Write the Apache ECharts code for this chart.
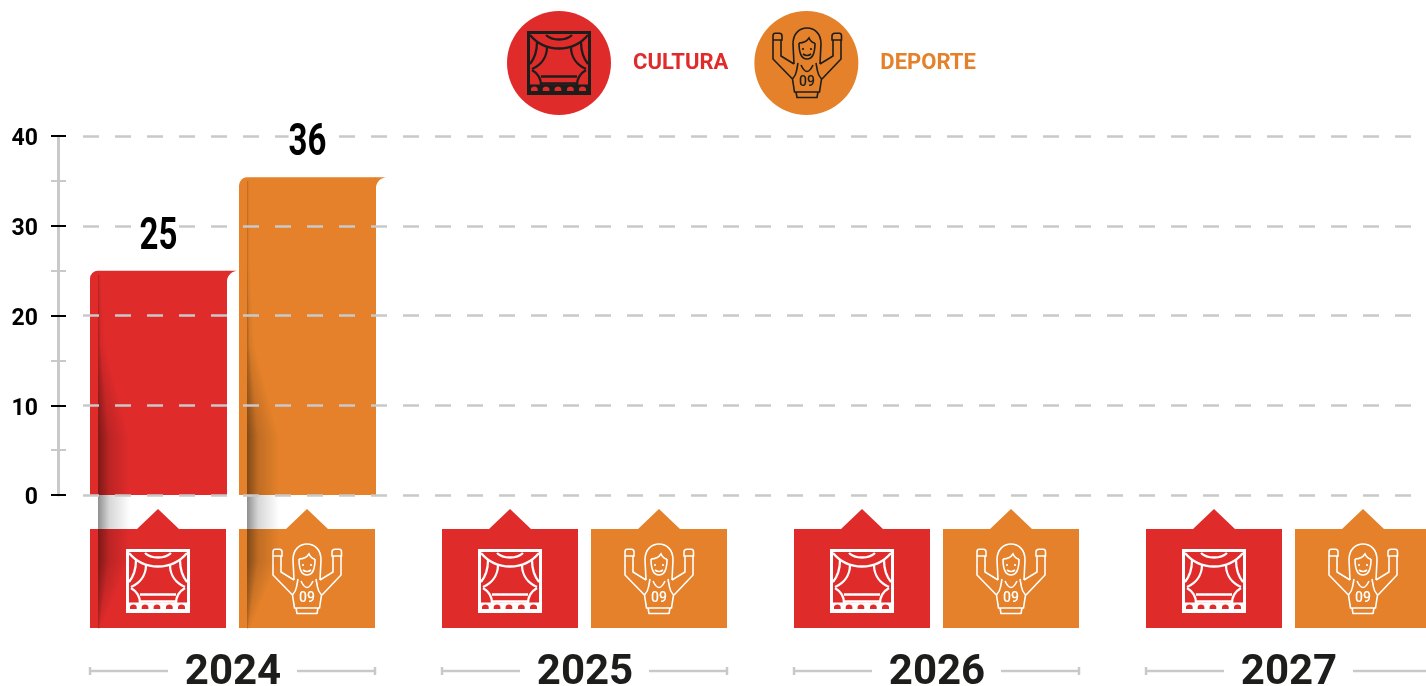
<!DOCTYPE html>
<html>
<head>
<meta charset="utf-8">
<title>Cultura y Deporte</title>
<script src="https://cdn.jsdelivr.net/npm/echarts@6/dist/echarts.min.js"></script>
<style>
  html, body { margin: 0; padding: 0; background: #fff; overflow: hidden; }
  #chart { width: 1426px; height: 686px; }
</style>
</head>
<body>
<div id="chart"></div>
<script>
(function () {
  'use strict';

  // ============================================================
  //  Data
  // ============================================================
  const years = ['2024', '2025', '2026', '2027'];
  // bar heights as drawn; the orange bar stops just under its printed 36
  const culturaValues = [25, null, null, null];
  const deporteValues = [35.4, null, null, null];
  const culturaLabels = ['25', '', '', ''];
  const deporteLabels = ['36', '', '', ''];
  const yTicks = [0, 40, 10];

  // ============================================================
  //  Palette
  // ============================================================
  const C = {
    red: '#e02b2b',
    orange: '#e4812a',
    grey: '#c9c9c9',
    ink: '#000000',
    year: '#1d1d1b',
    white: '#ffffff',
  };
  const FONT = 'Roboto, sans-serif';

  // ============================================================
  //  Icons
  // ============================================================
  const CURTAIN_FRAME = 'M1.5,1.5 H62.5 V62.5 H1.5 Z';
  const CURTAIN_LINES = 'M3,4 C18,22 46,22 61,4 M19,4 C25,10 39,10 45,4 ' +
    'M10,11 C10,20 7,28 3,33 M20,16 C20,26 14,34 5,38 ' +
    'M54,11 C54,20 57,28 61,33 M44,16 C44,26 50,34 59,38 ' +
    'M5,39 C10,42 14,47 14,54 M59,39 C54,42 50,47 50,54 M14,45.5 H50 M14,52.5 H50';
  // seat band: the outer box runs clockwise, the seats counter-clockwise so they stay open
  const CURTAIN_SEATS = 'M3,53.5 H61 V62 H3 Z ' +
    'M4,60 H10.7 V58 C10.7,54.5 4,54.5 4,58 Z ' +
    'M15.7,60 H22.4 V58 C22.4,54.5 15.7,54.5 15.7,58 Z ' +
    'M27.6,60 H34.3 V58 C34.3,54.5 27.6,54.5 27.6,58 Z ' +
    'M40,60 H46.7 V58 C46.7,54.5 40,54.5 40,58 Z ' +
    'M52,60 H59 V58 C59,54.5 52,54.5 52,58 Z';
  const CHEER_LINES = 'M3,5.3 H7.5 Q10,5.3 10,8 V12 H1 V8 Q1,5.3 3,5.3 Z ' +
    'M63,5.3 H67.5 Q69.5,5.3 69.5,8 V12 H60 V8 Q60,5.3 63,5.3 Z ' +
    'M1,12 V31 L20.5,51 M9,12 V28 L22,36 M69,12 V31 L50,51 M61,12 V28 L48,36 ' +
    'M22,36 L21,16 C21,5 28,0 35,0 C42,0 49,5 49,16 L48,36 ' +
    'M27,15 C27,25 30,31 35,31 C40,31 43,25 43,15 M27,15 C32,15 35,13 37,10 C38,13 41,15 43,15 ' +
    'M31,26 Q35,29 39,26 M26,35 L24.5,43 Q24,47 20.5,51 L22.5,64 H47.5 L49.5,51 Q46,47 45.5,43 L44,35 ' +
    'M29,37 Q35,50 41,37 M24,64 L25,69.5 H45 L46,64';

  function iconChildren(kind, x, y, color) {
    if (kind === 0) {
      return [
        { type: 'path', x, y, shape: { pathData: CURTAIN_FRAME }, style: { fill: 'none', stroke: color, lineWidth: 3 } },
        { type: 'path', x, y, shape: { pathData: CURTAIN_LINES }, style: { fill: 'none', stroke: color, lineWidth: 2.3 } },
        { type: 'path', x, y, shape: { pathData: CURTAIN_SEATS }, style: { fill: color } },
      ];
    }
    return [
      { type: 'path', x, y, shape: { pathData: CHEER_LINES }, style: { fill: 'none', stroke: color, lineWidth: 1.6 } },
      { type: 'circle', shape: { cx: x + 31, cy: y + 21, r: 1.1 }, style: { fill: color } },
      { type: 'circle', shape: { cx: x + 39, cy: y + 21, r: 1.1 }, style: { fill: color } },
      { type: 'text', style: { x: x + 35, y: y + 54, text: '09', fill: color, font: `500 14px ${FONT}`, align: 'center', verticalAlign: 'middle' } },
    ];
  }

  // ============================================================
  //  Bar furniture (geometry relative to the category band)
  // ============================================================
  const BAR_W = 137;
  const GROUP_W = 285;
  const colors = [C.red, C.orange];
  const barLeft = (cx, side) => (side === 0 ? cx - 143 : cx + 6);

  // tag with notch + icon under every bar slot
  function renderTag(side) {
    return function (params, api) {
      const p = api.coord([api.value(0), 0]);
      const l = barLeft(p[0], side);
      const z = p[1];
      const mid = 68;
      const path = `M0,34 H${mid - 21} L${mid},14 L${mid + 21},34 H136 V133 H0 Z`;
      const icon = side === 0
        ? iconChildren(0, l + 36, z + 54, C.white)
        : iconChildren(1, l + 33, z + 49, C.white);
      return {
        type: 'group',
        children: [{ type: 'path', x: l, y: z, shape: { pathData: path }, style: { fill: colors[side] } }].concat(icon),
      };
    };
  }

  // how open the page fold is at a pixel height, 0 at the ends, 1 around the baseline
  function foldOpen(y, z) {
    if (y < z - 150) return Math.max(0, (y - (z - 230)) / 80) * 0.15;
    if (y < z - 60) return 0.15 + 0.85 * (y - (z - 150)) / 90;
    if (y < z + 65) return 1;
    return Math.max(0, 1 - (y - (z + 65)) / 68);
  }

  // page fold shadow + curled corner on bars that carry a value
  function renderFold(side, values) {
    return function (params, api) {
      const i = api.value(0);
      const v = values[i];
      if (v == null) return null;
      const p0 = api.coord([i, 0]);
      const pt = api.coord([i, v]);
      const l = barLeft(p0[0], side);
      const t = Math.round(pt[1]);
      const z = Math.round(p0[1]);
      const children = [];
      // the shadow opens and closes along its height, so it is cut in thin strips
      for (let y = t + 4; y < z + 133; y += 2) {
        const f = foldOpen(y, z);
        children.push({
          type: 'rect', silent: true,
          shape: { x: l + 8, y, width: 3 + 29 * f, height: 2 },
          style: {
            fill: {
              type: 'linear', x: 0, y: 0, x2: 1, y2: 0,
              colorStops: [
                { offset: 0, color: `rgba(0,0,0,${0.24 + 0.2 * f})` },
                { offset: 0.35, color: `rgba(0,0,0,${0.05 + 0.11 * f})` },
                { offset: 1, color: 'rgba(0,0,0,0)' },
              ],
            },
          },
        });
      }
      children.push({
        type: 'path', x: l + BAR_W, y: pt[1],
        shape: { pathData: 'M-1,0 L10,0 C4,1 0,5 0,11 L-1,11 Z' },
        style: { fill: colors[side] },
      });
      return { type: 'group', children };
    };
  }

  // value printed above the bar, knocking out the dashed line behind it
  function renderValue(side, values, labels) {
    return function (params, api) {
      const i = api.value(0);
      if (values[i] == null) return null;
      const pc = api.coord([i, values[i]]);
      const l = barLeft(pc[0], side);
      return {
        type: 'text',
        x: l + BAR_W / 2, y: pc[1] - 33, scaleX: 0.75,
        style: {
          x: 0, y: 0,
          text: labels[i], fill: C.ink, font: `bold 44px ${FONT}`,
          align: 'center', verticalAlign: 'middle', backgroundColor: C.white,
        },
      };
    };
  }

  // grey bracket either side of the year
  function renderBracket(params, api) {
    const p = api.coord([api.value(0), 0]);
    const l = barLeft(p[0], 0);
    const y = p[1] + 176;
    const path = `M${l},${y} H${l + 78} M${l + 207},${y} H${l + GROUP_W} M${l},${y - 4} V${y + 4} M${l + GROUP_W},${y - 4} V${y + 4}`;
    return { type: 'path', shape: { pathData: path }, style: { fill: 'none', stroke: C.grey, lineWidth: 2.5 } };
  }

  const slots = years.map((_, i) => [i]);

  // ============================================================
  //  Chart
  // ============================================================
  const chart = echarts.init(document.getElementById('chart'), null, { renderer: 'canvas' });
  chart.setOption({
    animation: false,
    backgroundColor: C.white,
    legend: {
      left: 507, top: 11, padding: 0, icon: 'circle', itemWidth: 104, itemHeight: 104, itemGap: 26,
      selectedMode: false,
      data: [
        { name: 'CULTURA', textStyle: { color: C.red } },
        { name: 'DEPORTE', textStyle: { color: C.orange } },
      ],
      textStyle: { fontFamily: FONT, fontWeight: 'bold', fontSize: 22, padding: [4, 0, 0, 17] },
    },
    grid: [
      { left: 57, top: 136, width: 1408, height: 359, outerBoundsMode: 'none' },
      { left: 83, top: 136, width: 1400, height: 359, outerBoundsMode: 'none' },
    ],
    xAxis: [
      {
        type: 'category', data: years, gridIndex: 0,
        axisLine: { show: false }, axisTick: { show: false },
        axisLabel: { margin: 157, fontFamily: FONT, fontWeight: 'bold', fontSize: 42, color: C.year },
      },
      { type: 'category', data: years, gridIndex: 1, show: false },
    ],
    yAxis: [
      {
        type: 'value', gridIndex: 0, min: yTicks[0], max: yTicks[1], interval: yTicks[2], offset: -1,
        axisLine: { show: true, lineStyle: { color: C.grey, width: 3 } },
        axisTick: { show: false }, axisLabel: { show: false }, splitLine: { show: false },
      },
      {
        type: 'value', gridIndex: 0, position: 'left', min: yTicks[0], max: yTicks[1], interval: yTicks[2], offset: -9,
        axisLine: { show: false },
        axisTick: { show: true, length: 15, lineStyle: { color: C.ink, width: 2 } },
        minorTick: { show: true, splitNumber: 2, length: 15, lineStyle: { color: C.grey, width: 2 } },
        axisLabel: {
          margin: 28, formatter: '{n|{value}}',
          rich: { n: { fontFamily: FONT, fontWeight: 'bold', fontSize: 23, color: C.ink, padding: [7, 0, 0, 0] } },
        },
        splitLine: { show: false },
      },
      {
        type: 'value', gridIndex: 1, min: yTicks[0], max: yTicks[1], interval: yTicks[2], z: 3,
        axisLine: { show: false }, axisTick: { show: false }, axisLabel: { show: false },
        splitLine: { show: true, lineStyle: { color: C.grey, width: 2.5, type: [16, 16] } },
      },
    ],
    series: [
      { type: 'custom', name: 'tag-cultura', z: 1, data: slots, renderItem: renderTag(0), silent: true },
      { type: 'custom', name: 'tag-deporte', z: 1, data: slots, renderItem: renderTag(1), silent: true },
      { type: 'custom', name: 'brackets', z: 1, data: slots, renderItem: renderBracket, silent: true },
      {
        type: 'bar', name: 'CULTURA', data: culturaValues, z: 2, barWidth: BAR_W, barGap: '8.76%',
        itemStyle: { color: C.red, borderRadius: [8, 0, 0, 0] },
      },
      {
        type: 'bar', name: 'DEPORTE', data: deporteValues, z: 2, barWidth: BAR_W, barGap: '8.76%',
        itemStyle: { color: C.orange, borderRadius: [8, 0, 0, 0] },
      },
      { type: 'custom', name: 'fold-cultura', z: 2.5, data: slots, renderItem: renderFold(0, culturaValues), silent: true },
      { type: 'custom', name: 'fold-deporte', z: 2.5, data: slots, renderItem: renderFold(1, deporteValues), silent: true },
      { type: 'custom', name: 'value-cultura', z: 6, data: slots, renderItem: renderValue(0, culturaValues, culturaLabels), silent: true },
      { type: 'custom', name: 'value-deporte', z: 6, data: slots, renderItem: renderValue(1, deporteValues, deporteLabels), silent: true },
      {
        type: 'custom', name: 'legend-icons', coordinateSystem: 'none', z: 6, data: [[0]], silent: true,
        renderItem: () => ({
          type: 'group',
          children: iconChildren(0, 527, 31, C.year).concat(iconChildren(1, 772, 28, C.year)),
        }),
      },
    ],
  });
  window.addEventListener('resize', () => chart.resize());
})();
</script>
</body>
</html>
